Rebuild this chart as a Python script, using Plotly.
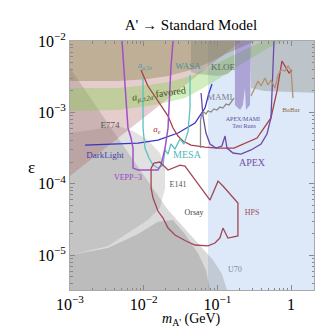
import math
import plotly.graph_objects as go

# ── axes ──────────────────────────────────────────────────────────────────────
x_ticks = [1e-3, 1e-2, 1e-1, 1]
x_ticktext = ['10<sup>−3</sup>', '10<sup>−2</sup>', '10<sup>−1</sup>', '1']
y_ticks = [1e-5, 1e-4, 1e-3, 1e-2]
y_ticktext = ['10<sup>−5</sup>', '10<sup>−4</sup>', '10<sup>−3</sup>', '10<sup>−2</sup>']

# ── shaded regions (m in GeV, epsilon) ────────────────────────────────────────
blue_m = [0.0745, 3.0, 3.0, 0.0745]
blue_eps = [1e-6, 1e-6, 2e-2, 2e-2]

diag_m = [1e-3, 3.6e-3, 2.14e-2, 5.81e-2, 8.71e-2, 0.115, 0.135, 0.14, 1e-3]
diag_eps = [4.19e-3, 6.05e-4, 4.30e-5, 1.35e-5, 8.6e-6, 5.5e-6, 3.26e-6, 1e-6, 1e-6]

bulge_m = [1e-3, 4.48e-3, 7.16e-3, 1.14e-2, 1.66e-2, 1.95e-2, 1.95e-2, 1.66e-2,
           1.14e-2, 6.12e-3, 3.28e-3, 1e-3]
bulge_eps = [5.15e-4, 6.46e-4, 5.49e-4, 4.10e-4, 2.70e-4, 1.66e-4, 8.7e-5, 4.58e-5,
             3.11e-5, 2.05e-5, 1.35e-5, 1.0e-5]

dump_m = [1e-3, 3.28e-3, 8.38e-3, 1.56e-2, 2.5e-2, 3.63e-2, 5.46e-2, 7.0e-2,
          7.94e-2, 8.0e-2, 1e-3]
dump_eps = [1e-5, 1.26e-5, 1.98e-5, 2.95e-5, 3.11e-5, 1.98e-5, 1.07e-5, 6.2e-6,
            3.26e-6, 1e-6, 1e-6]

pink_m = [1e-3, 0.209, 0.209, 1e-3]
pink_eps = [1.29e-4, 1e-2, 2e-2, 2e-2]

amu_m = [1e-3, 4.48e-3, 1.14e-2, 2.14e-2, 4.38e-2, 7.45e-2, 0.139, 0.26, 0.33, 0.33, 1e-3]
amu_eps = [2.75e-3, 2.75e-3, 2.94e-3, 3.24e-3, 3.93e-3, 4.92e-3, 6.79e-3, 9.1e-3,
           1e-2, 2e-2, 2e-2]

fav_hi_m = [1e-3, 4.48e-3, 1.14e-2, 2.14e-2, 4.38e-2, 7.45e-2, 0.139, 0.26, 0.42]
fav_hi_eps = [2.20e-3, 2.20e-3, 2.42e-3, 2.67e-3, 3.24e-3, 4.19e-3, 5.78e-3, 7.98e-3, 1e-2]
fav_lo_m = [1e-3, 4.48e-3, 1.14e-2, 1.95e-2, 3.63e-2, 5.46e-2, 9.27e-2, 0.153, 0.26,
            0.486, 0.777]
fav_lo_eps = [1.05e-3, 1.08e-3, 1.23e-3, 1.36e-3, 1.59e-3, 2.0e-3, 2.75e-3, 3.80e-3,
              5.42e-3, 7.98e-3, 1e-2]

kloe_m = [4.38e-2, 4.38e-2, 5.46e-2, 7.45e-2, 0.102, 0.139, 0.168, 0.168]
kloe_eps = [1e-2, 3.68e-3, 3.45e-3, 3.34e-3, 3.24e-3, 3.45e-3, 4.19e-3, 1e-2]

babar_m = [0.286, 0.286, 0.429, 0.908, 2.5, 2.5]
babar_eps = [1e-2, 2.20e-3, 2.0e-3, 1.92e-3, 1.87e-3, 1e-2]

test_m = [0.173, 0.173, 0.203, 0.222, 0.237, 0.244, 0.277, 0.286]
test_eps = [1e-2, 1.27e-3, 1.08e-3, 1.27e-3, 2.20e-3, 1.08e-3, 1.27e-3, 1e-2]

# ── contours ──────────────────────────────────────────────────────────────────
darklight_m = [1.6e-3, 3.28e-3, 8.38e-3, 1.56e-2, 2.92e-2, 4.97e-2, 6.79e-2, 7.69e-2, 8.45e-2]
darklight_eps = [3.49e-4, 3.61e-4, 3.72e-4, 4.10e-4, 5.15e-4, 7.11e-4, 1.15e-3, 1.87e-3, 2.5e-3]

ae_m = [9.19e-3, 1.14e-2, 1.56e-2, 2.14e-2, 2.5e-2, 2.92e-2, 3.41e-2, 4.38e-2, 6.79e-2,
        0.102, 0.168, 0.345, 0.533, 0.644, 0.753, 0.826, 0.937, 1.03]
ae_eps = [3.93e-3, 2.34e-3, 1.45e-3, 8.9e-4, 6.05e-4, 4.67e-4, 3.97e-4, 3.49e-4, 3.27e-4,
          3.17e-4, 3.17e-4, 4.38e-4, 8.36e-4, 2.0e-3, 5.25e-3, 4.47e-3, 3.56e-3, 3.93e-3]

apex_m = [6.0e-2, 6.38e-2, 7.0e-2, 7.94e-2, 9.57e-2, 0.115, 0.127, 0.135, 0.163, 0.209,
          0.286, 0.391, 0.471, 0.533, 0.551, 0.586]
apex_eps = [1.87e-3, 8.9e-4, 5.15e-4, 3.61e-4, 3.17e-4, 3.38e-4, 4.67e-4, 3.17e-4, 2.70e-4,
            2.61e-4, 2.98e-4, 3.61e-4, 4.98e-4, 8.36e-4, 1.87e-3, 1e-2]

mami_m = [5.9e-2, 5.9e-2, 6.18e-2, 6.58e-2, 7.0e-2, 7.45e-2, 8.19e-2, 9.0e-2, 9.88e-2,
          0.108, 0.119, 0.131, 0.144, 0.158, 0.168]
mami_eps = [3.17e-4, 7.83e-4, 9.5e-4, 1.01e-3, 9.5e-4, 1.05e-3, 1.01e-3, 1.12e-3, 1.08e-3,
            1.19e-3, 1.15e-3, 1.31e-3, 1.27e-3, 1.45e-3, 1.59e-3]

babar_line_m = [0.286, 0.324, 0.356, 0.391, 0.442, 0.486, 0.533, 0.605, 0.664, 0.730,
                0.826, 0.908, 1.0, 1.03, 1.06]
babar_line_eps = [1.70e-3, 2.20e-3, 2.75e-3, 2.34e-3, 3.03e-3, 2.42e-3, 2.84e-3, 2.20e-3,
                  3.34e-3, 3.93e-3, 3.80e-3, 4.47e-3, 3.80e-3, 2.58e-3, 1.59e-3]

mesa_m = [9.8e-3, 9.8e-3, 1.04e-2, 1.18e-2, 1.34e-2, 1.56e-2, 1.83e-2, 1.95e-2, 2.14e-2,
          2.34e-2, 2.66e-2, 3.11e-2, 3.52e-2, 3.99e-2, 4.25e-2, 4.25e-2]
mesa_eps = [3.03e-3, 6.05e-4, 3.17e-4, 2.30e-4, 1.83e-4, 1.66e-4, 1.83e-4, 2.98e-4, 2.61e-4,
            3.61e-4, 3.07e-4, 4.24e-4, 3.61e-4, 5.32e-4, 1.15e-3, 3.34e-3]

vepp_m = [5.08e-3, 5.57e-3, 6.12e-3, 6.73e-3, 7.16e-3, 7.16e-3, 8.38e-3, 1.56e-2, 1.72e-2,
          1.95e-2, 2.14e-2, 2.34e-2, 2.5e-2]
vepp_eps = [1e-2, 2.75e-3, 6.05e-4, 4.38e-4, 3.17e-4, 1.66e-4, 1.56e-4, 1.56e-4, 1.83e-4,
            3.17e-4, 6.05e-4, 4.19e-3, 1e-2]

hps_m = [1.26e-2, 1.38e-2, 1.66e-2, 2.14e-2, 3.11e-2, 3.63e-2, 5.13e-2, 7.94e-2, 0.102,
         0.119, 0.190, 0.190, 0.139, 0.119, 0.108, 9.27e-2, 7.45e-2, 4.97e-2, 3.75e-2,
         2.66e-2, 2.14e-2, 1.83e-2, 1.56e-2, 1.34e-2, 1.26e-2, 1.26e-2]
hps_eps = [1.66e-4, 1.95e-4, 2.02e-4, 1.56e-4, 1.83e-4, 1.77e-4, 1.09e-4, 5.93e-5, 1.09e-4,
           9.3e-5, 5.38e-5, 1.86e-5, 1.74e-5, 2.40e-5, 1.74e-5, 1.48e-5, 1.35e-5, 1.39e-5,
           1.58e-5, 1.92e-5, 2.40e-5, 3.32e-5, 4.16e-5, 6.32e-5, 8.7e-5, 1.66e-4]

# ── labels ────────────────────────────────────────────────────────────────────
label_text = ['E774', 'DarkLight', 'VEPP−3', 'E141', 'Orsay', 'HPS', 'U70', 'APEX',
              'MESA', '<i>a<sub>e</sub></i>', '<i>a<sub>μ,5σ</sub></i>', 'WASA', 'KLOE',
              'MAMI', 'APEX/MAMI', 'Test Runs', 'BaBar']
label_m = [3.49e-3, 2.99e-3, 6.12e-3, 2.92e-2, 4.82e-2, 0.295, 0.173, 0.295,
           3.87e-2, 1.51e-2, 1.04e-2, 3.99e-2, 0.119, 0.108, 0.222, 0.23, 1.0]
label_eps = [6.46e-4, 2.45e-4, 1.21e-4, 9.6e-5, 3.9e-5, 3.9e-5, 6.2e-6, 1.95e-4,
             2.53e-4, 5.68e-4, 4.47e-3, 4.33e-3, 4.19e-3, 1.59e-3, 7.83e-4, 6.25e-4, 1.08e-3]
label_color = ['#555555', '#4040b0', '#a040c8', '#555555', '#444444', '#a05060', '#7a8aa0',
               '#7050a8', '#50b8b8', '#b03030', '#4a9aa8', '#4a90a0', '#5a6a60',
               '#808090', '#6050a0', '#6050a0', '#8a6a40']
label_size = [9, 9, 8, 8, 8, 8, 8, 10, 10, 9, 8, 9, 9, 9, 6, 6, 7]

fav_text = '<i>a<sub>μ,±2σ</sub></i> favored'
fav_m, fav_eps = 1.61e-2, 1.76e-3

SERIF = 'Liberation Serif, Times New Roman, serif'

fig = go.Figure()


def area(xs, ys, color):
    fig.add_trace(go.Scatter(x=xs, y=ys, fill='toself', fillcolor=color,
                             mode='lines', line=dict(width=0), hoverinfo='skip'))


def curve(xs, ys, color, width=1.3):
    fig.add_trace(go.Scatter(x=xs, y=ys, mode='lines', hoverinfo='skip',
                             line=dict(color=color, width=width)))


area(blue_m, blue_eps, '#dde9f8')
area(diag_m, diag_eps, 'rgba(120,120,120,0.27)')
area(bulge_m, bulge_eps, 'rgba(120,120,120,0.22)')
area(dump_m, dump_eps, 'rgba(100,100,100,0.25)')
area(pink_m, pink_eps, 'rgba(170,90,90,0.3)')
area(amu_m, amu_eps, 'rgba(130,125,60,0.38)')
area(fav_hi_m + fav_lo_m[::-1], fav_hi_eps + fav_lo_eps[::-1], 'rgba(130,205,70,0.35)')
area(kloe_m, kloe_eps, 'rgba(110,120,110,0.3)')
area(babar_m, babar_eps, 'rgba(140,140,130,0.4)')
area(test_m, test_eps, 'rgba(110,80,170,0.45)')

curve(darklight_m, darklight_eps, '#3535c8')
curve(ae_m, ae_eps, '#a8404a')
curve(apex_m, apex_eps, '#6a4aa8')
curve(mami_m, mami_eps, '#8a8a8a')
curve(babar_line_m, babar_line_eps, '#b09070')
curve(mesa_m, mesa_eps, '#5cc0c0')
curve(vepp_m, vepp_eps, '#a050c8', 1.5)
curve(hps_m, hps_eps, '#a04858')

fig.add_trace(go.Scatter(
    x=label_m, y=label_eps, mode='text', text=label_text, hoverinfo='skip',
    textfont=dict(family=SERIF, size=label_size, color=label_color),
))

fig.add_annotation(x=math.log10(fav_m), y=math.log10(fav_eps), text=fav_text,
                   showarrow=False, textangle=-8,
                   font=dict(family=SERIF, size=10, color='#3a5020'))

fig.add_annotation(x=0.496, y=-0.16, xref='paper', yref='paper', showarrow=False,
                   yanchor='bottom', text="<i>m</i><sub>A'</sub> (GeV)",
                   font=dict(family=SERIF, size=14, color='black'))
fig.add_annotation(x=-0.18, y=0.49, xref='paper', yref='paper', showarrow=False,
                   yanchor='middle', text='ε',
                   font=dict(family=SERIF, size=17, color='black'))

minor_vals = [k * 10.0 ** e for e in (-6, -5, -4, -3, -2, -1, 0) for k in range(2, 10)]
axis_style = dict(
    type='log', showgrid=False, zeroline=False, showline=True, linecolor='#aaaaaa',
    mirror='ticks', ticks='inside', ticklen=5, tickcolor='#888888',
    tickfont=dict(family=SERIF, size=16, color='black'),
    minor=dict(tickvals=minor_vals, ticks='inside', ticklen=2.5, tickcolor='#888888',
               showgrid=False),
)
fig.update_xaxes(**axis_style, range=[-3, 0.311], tickvals=x_ticks, ticktext=x_ticktext)
fig.update_yaxes(**axis_style, range=[-5.487, -2], tickvals=y_ticks, ticktext=y_ticktext)

fig.update_layout(
    width=332, height=327, margin=dict(l=62, r=26, t=33, b=45),
    plot_bgcolor='white', paper_bgcolor='white', showlegend=False,
    title=dict(text="A' → Standard Model", x=0.551, y=0.948, xanchor='center',
               yanchor='middle', font=dict(family=SERIF, size=15, color='black')),
)

fig.write_html("out.html")
